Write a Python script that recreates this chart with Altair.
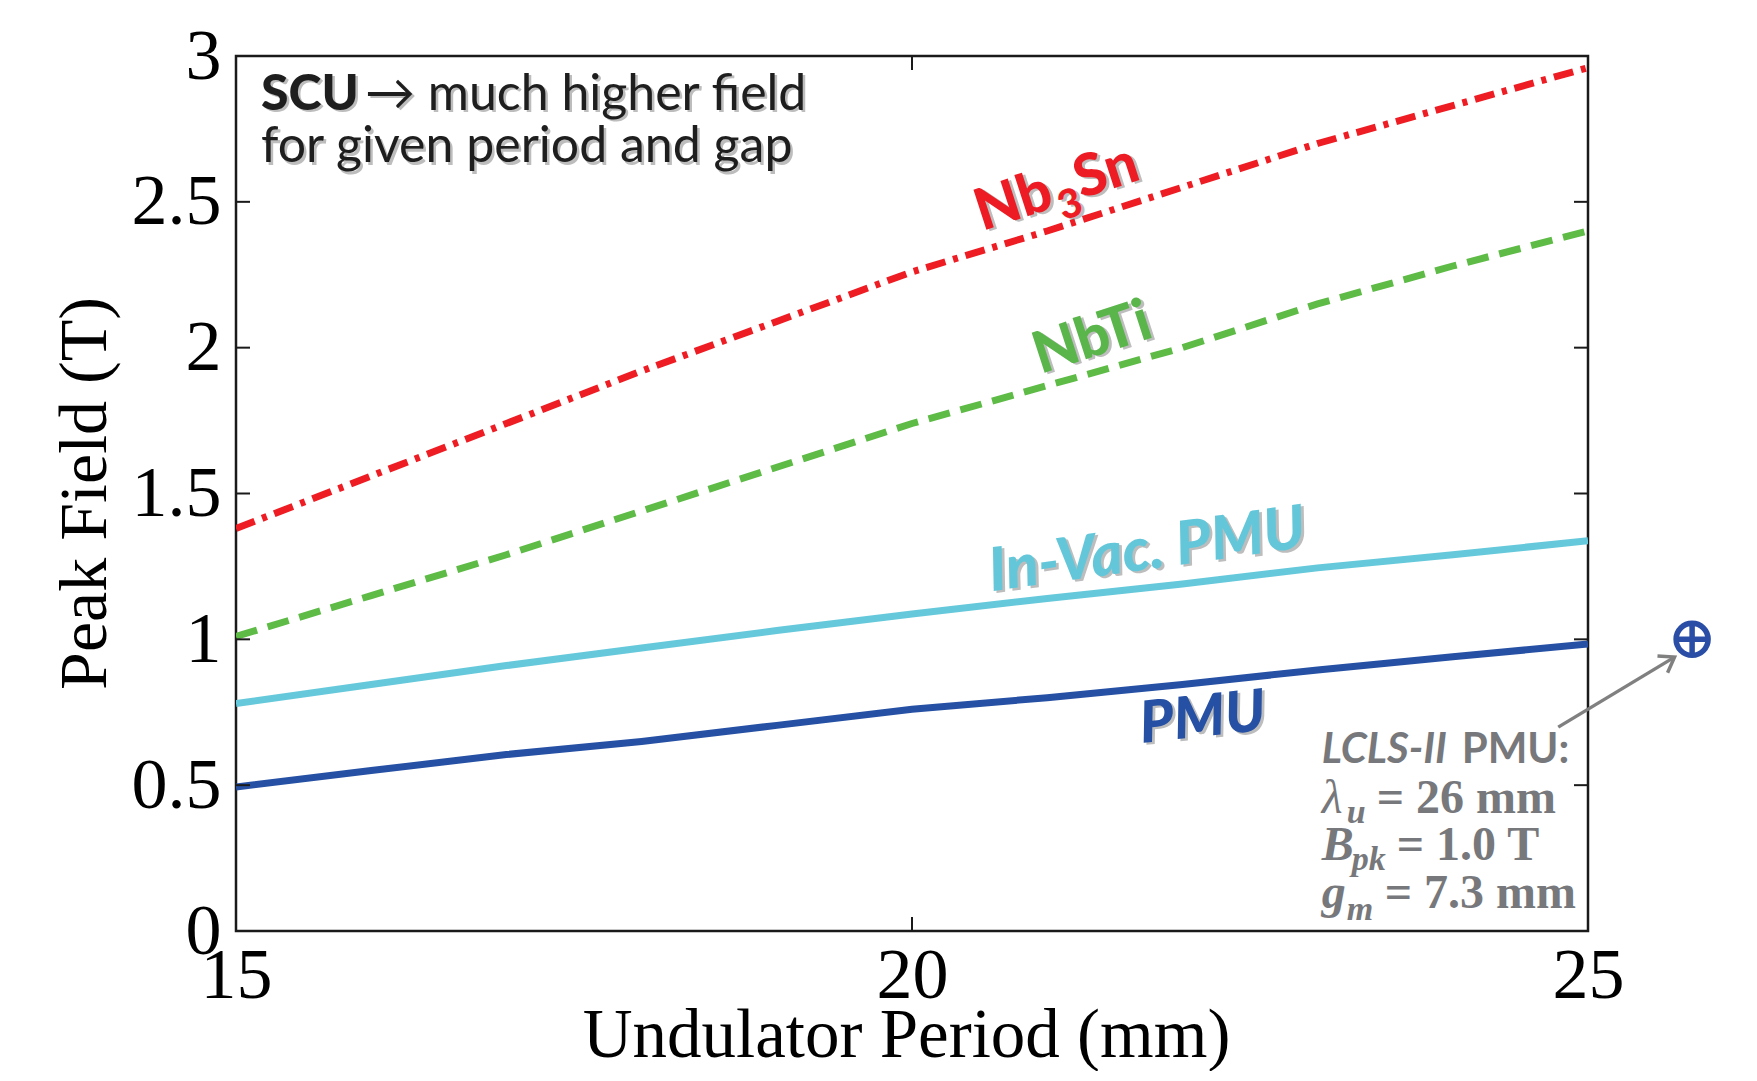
import altair as alt
import pandas as pd

# ---------------- data ----------------
periods = [15, 16, 17, 18, 19, 20, 21, 22, 23, 24, 25]
nb3sn = [1.38, 1.56, 1.74, 1.92, 2.09, 2.26, 2.40, 2.55, 2.70, 2.83, 2.96]
nbti = [1.01, 1.15, 1.29, 1.44, 1.59, 1.74, 1.87, 2.00, 2.15, 2.28, 2.40]
invac = [0.78, 0.845, 0.91, 0.97, 1.03, 1.087, 1.14, 1.19, 1.245, 1.29, 1.338]
pmu = [0.494, 0.55, 0.605, 0.65, 0.705, 0.76, 0.80, 0.845, 0.895, 0.94, 0.984]

x_tick_values = [15, 20, 25]
y_tick_values = [0, 0.5, 1, 1.5, 2, 2.5, 3]
inner_x_ticks = [20]
inner_y_ticks = [0.5, 1, 1.5, 2, 2.5]

# LCLS-II PMU reference point and its arrow
lcls_point = [25.77, 1.0]
arrow_start = [24.78, 0.699]
arrow_end = [25.64, 0.939]

W, H = 1352, 875
xs = alt.Scale(domain=[15, 25], nice=False, zero=False)
ys = alt.Scale(domain=[0, 3], nice=False, zero=False)

SANS = "Lato"
SERIF = "Liberation Serif"

x_axis = alt.Axis(values=x_tick_values, ticks=False, domain=False, grid=False,
                  format="~g",
                  labelFont=SERIF, labelFontSize=72, labelColor="#000",
                  labelBaseline="alphabetic", labelPadding=66, labelFlush=False,
                  labelOverlap=False, labelBound=False,
                  title="Undulator Period (mm)", titleFont=SERIF, titleFontSize=69,
                  titleFontWeight="normal", titleColor="#000",
                  titleX=670, titleY=125, titleBaseline="alphabetic", titleAlign="center")
y_axis = alt.Axis(values=y_tick_values, ticks=False, domain=False, grid=False,
                  format="~g",
                  labelFont=SERIF, labelFontSize=72, labelColor="#000",
                  labelBaseline="middle", labelPadding=15, labelFlush=False,
                  labelOverlap=False, labelBound=False,
                  title="Peak Field (T)", titleFont=SERIF, titleFontSize=68,
                  titleFontWeight="normal", titleColor="#000",
                  titleX=-131, titleY=437, titleAngle=270,
                  titleBaseline="alphabetic", titleAlign="center")


def X(field):
    return alt.X(field, scale=xs, axis=x_axis)


def Y(field):
    return alt.Y(field, scale=ys, axis=y_axis)


def series_df(vals):
    return pd.DataFrame({"period": periods, "field": vals})


def line_layer(vals, color, dash=None):
    kw = dict(color=color, strokeWidth=7, clip=True)
    if dash:
        kw["strokeDash"] = dash
    return alt.Chart(series_df(vals)).mark_line(**kw).encode(
        x=X("period:Q"), y=Y("field:Q"))


layers = [
    line_layer(pmu, "#2650A4"),
    line_layer(invac, "#66C9DB"),
    line_layer(nbti, "#5DBB46", dash=[22, 11]),
    line_layer(nb3sn, "#EE1D24", dash=[20, 8, 5, 8]),
]

# inward ticks on all four sides
tick_col = "#1a1a1a"
ty = pd.DataFrame({"v": inner_y_ticks})
tx = pd.DataFrame({"v": inner_x_ticks})
for x1, x2 in [(0, 14), (W - 14, W)]:
    layers.append(alt.Chart(ty).mark_rule(color=tick_col, strokeWidth=2).encode(
        y=Y("v:Q"), x=alt.value(x1), x2=alt.value(x2)))
for y1, y2 in [(H, H - 14), (0, 14)]:
    layers.append(alt.Chart(tx).mark_rule(color=tick_col, strokeWidth=2).encode(
        x=X("v:Q"), y=alt.value(y1), y2=alt.value(y2)))


def label(text, x, y, size, color, angle=0, font=SANS, weight="bold",
          style="normal", dx=0, dy=0, shadow=True):
    df = pd.DataFrame({"x": [x], "y": [y], "t": [text]})
    out = []
    if shadow:
        out.append(alt.Chart(df).mark_text(
            font=font, fontSize=size, fontWeight=weight, fontStyle=style,
            color="#6e6e6e", opacity=0.45, angle=angle, align="left",
            baseline="alphabetic", dx=dx + 2.5, dy=dy + 2.5).encode(
            x=X("x:Q"), y=Y("y:Q"), text="t:N"))
    out.append(alt.Chart(df).mark_text(
        font=font, fontSize=size, fontWeight=weight, fontStyle=style,
        color=color, angle=angle, align="left", baseline="alphabetic",
        dx=dx, dy=dy).encode(
        x=X("x:Q"), y=Y("y:Q"), text="t:N"))
    return out


# series labels
RED, GREEN, CYAN, BLUE = "#ED1C24", "#5AB54A", "#63C7D9", "#2650A3"
HEAVY = 900
layers += label("Nb", 20.52, 2.40, 58, RED, angle=342, weight=HEAVY)
layers += label("3", 20.52, 2.40, 40, RED, angle=342, dx=80, dy=15, weight=HEAVY)
layers += label("Sn", 20.52, 2.40, 58, RED, angle=342, dx=104, weight=HEAVY)
layers += label("NbTi", 20.95, 1.91, 58, GREEN, angle=342, weight=HEAVY)
layers += label("In-Vac. PMU", 20.59, 1.165, 60, CYAN, angle=352, style="italic", weight=HEAVY)
layers += label("PMU", 21.70, 0.645, 58, BLUE, angle=354, style="italic", weight=HEAVY)

# top-left statement
DARK = "#1E1E1E"
layers += label("SCU", 15.185, 2.815, 50, DARK, weight=HEAVY)
layers += label("\u2192 much higher field", 15.185, 2.815, 50, DARK, weight="normal", dx=104)
layers += label("for given period and gap", 15.185, 2.636, 50, DARK, weight="normal")

# LCLS-II annotation
GREY = "#77787B"
AX = 23.03
layers += label("LCLS-II", AX, 0.576, 42, GREY, style="italic", shadow=False)
layers += label("PMU:", AX, 0.576, 42, GREY, dx=140, shadow=False)
layers += label("\u03bb", AX, 0.405, 48, GREY, font=SERIF, weight="normal", style="italic", shadow=False)
layers += label("u", AX, 0.405, 34, GREY, font=SERIF, style="italic", dx=25, dy=10, shadow=False)
layers += label("= 26 mm", AX, 0.405, 48, GREY, font=SERIF, dx=55, shadow=False)
layers += label("B", AX, 0.243, 48, GREY, font=SERIF, style="italic", shadow=False)
layers += label("pk", AX, 0.243, 34, GREY, font=SERIF, style="italic", dx=30, dy=10, shadow=False)
layers += label("= 1.0 T", AX, 0.243, 48, GREY, font=SERIF, dx=75, shadow=False)
layers += label("g", AX, 0.079, 48, GREY, font=SERIF, style="italic", shadow=False)
layers += label("m", AX, 0.079, 34, GREY, font=SERIF, style="italic", dx=25, dy=12, shadow=False)
layers += label("= 7.3 mm", AX, 0.079, 48, GREY, font=SERIF, dx=63, shadow=False)

# arrow
arrow_df = pd.DataFrame({"x": [arrow_start[0]], "y": [arrow_start[1]],
                         "x2": [arrow_end[0]], "y2": [arrow_end[1]]})
layers.append(alt.Chart(arrow_df).mark_rule(color="#808080", strokeWidth=3.5).encode(
    x=X("x:Q"), y=Y("y:Q"), x2="x2:Q", y2="y2:Q"))
head_df = pd.DataFrame({"x": [arrow_end[0]], "y": [arrow_end[1]]})
layers.append(alt.Chart(head_df).mark_point(
    shape="M -0.7 1 L 0 0 L 0.7 1", filled=False, stroke="#808080",
    strokeWidth=3.5, size=784, angle=59, opacity=1).encode(
    x=X("x:Q"), y=Y("y:Q")))

# LCLS-II point (circle with cross)
pt_df = pd.DataFrame({"x": [lcls_point[0]], "y": [lcls_point[1]]})
layers.append(alt.Chart(pt_df).mark_point(
    shape="M -1 0 A 1 1 0 1 0 1 0 A 1 1 0 1 0 -1 0 Z M -1 0 L 1 0 M 0 -1 L 0 1",
    filled=False, stroke="#2A4EA6", strokeWidth=5.5, size=1024, opacity=1).encode(
    x=X("x:Q"), y=Y("y:Q")))

chart = alt.layer(*layers).properties(
    width=W, height=H,
    padding={"left": 228, "top": 48, "right": 150, "bottom": 140},
    autosize=alt.AutoSizeParams(type="none"),
    background="white",
).configure_view(stroke="#1a1a1a", strokeWidth=2.5)

chart.save("out.html", embed_options={"renderer": "svg", "actions": False})
